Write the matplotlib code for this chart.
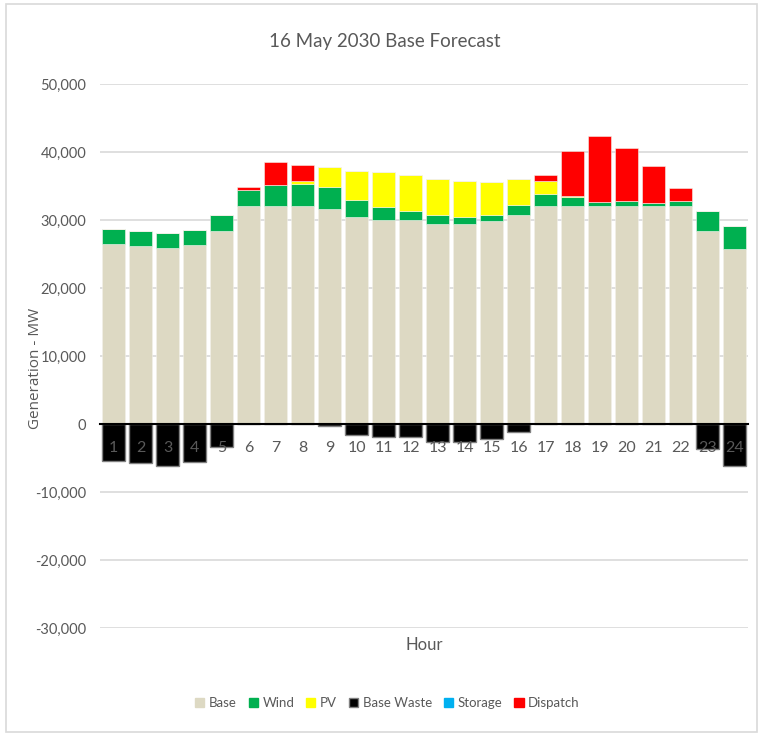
import matplotlib.pyplot as plt
import matplotlib.patches as mpatches
import matplotlib.transforms as mtransforms
import numpy as np

# ===============================================================
# DATA (MW)

hours = list(range(1, 25))
base = [26470, 26130, 25830, 26270, 28430, 32100, 32100, 32100, 31620, 30390, 30000, 29950,
        29360, 29360, 29800, 30690, 32060, 32060, 32060, 32060, 32060, 32060, 28430, 25690]
wind = [2250, 2300, 2260, 2310, 2260, 2310, 3050, 3240, 3230, 2500, 1960, 1420,
        1380, 1130, 940, 1570, 1720, 1270, 640, 780, 440, 780, 2890, 3380]
pv = [0, 0, 0, 0, 0, 0, 0, 390, 2890, 4360, 5150, 5300,
      5290, 5250, 4850, 3770, 2010, 200, 0, 0, 0, 0, 0, 0]
base_waste = [-5390, -5690, -6180, -5640, -3380, 0, 0, 0, -300, -1620, -1960, -1960,
              -2600, -2700, -2250, -1130, 0, 0, 0, 0, 0, 0, -3630, -6230]
storage = [0] * 24
dispatch = [0, 0, 0, 0, 0, 390, 3330, 2310, 0, 0, 0, 0,
            0, 0, 0, 0, 830, 6620, 9700, 7750, 5390, 1820, 0, 0]

y_ticks = list(range(-30000, 50001, 10000))

# ===============================================================
# STYLE

font = ['Lato', 'DejaVu Sans']
grey_text = '#595959'
colors = {'Base': '#ddd9c3', 'Wind': '#00b050', 'PV': '#ffff00',
          'Base Waste': '#000000', 'Storage': '#00b0f0', 'Dispatch': '#ff0000'}

fig = plt.figure(figsize=(7.61, 7.36), dpi=100)
ax = fig.add_axes([0.1314, 0.1467, 0.852, 0.7392])

x = np.array(hours)
w = 0.86

# Stacked positive series
bottom = np.zeros(24)
for name, vals in [('Base', base), ('Wind', wind), ('PV', pv),
                   ('Storage', storage), ('Dispatch', dispatch)]:
    vals = np.array(vals, dtype=float)
    ax.bar(x, vals, w, bottom=bottom, color=colors[name], edgecolor='#f4f2ea',
           linewidth=0.4, label=name, zorder=2)
    bottom += vals

# Negative waste
ax.bar(x, base_waste, w, color=colors['Base Waste'], edgecolor='#808080',
       linewidth=1.0, label='Base Waste', zorder=2)

# Axes
ax.set_xlim(0.5, 24.5)
ax.set_ylim(-30000, 50000)
ax.set_yticks(y_ticks)
ax.set_yticklabels([f"{v:,}" for v in y_ticks], family=font, fontsize=10.5, color=grey_text)
ax.set_xticks(hours)
ax.set_xticklabels([])
ax.tick_params(axis='y', length=0, pad=10)
ax.tick_params(axis='x', length=0)
ax.grid(axis='y', color='#d9d9d9', linewidth=1.2)
ax.set_axisbelow(True)

for s in ['left', 'right', 'top']:
    ax.spines[s].set_visible(False)
ax.spines['bottom'].set_position(('data', 0))
ax.spines['bottom'].set_color('black')
ax.spines['bottom'].set_linewidth(1.5)
ax.spines['bottom'].set_zorder(3)

# Hour labels, drawn over the bars just under the zero line
trans = mtransforms.offset_copy(ax.transData, fig=fig, x=0, y=-17, units='points')
for h in hours:
    ax.text(h, 0, str(h), transform=trans, ha='center', va='center',
            family=font, fontsize=11.5, color=grey_text, zorder=5)

# Texts
fig.text(0.506, 0.943, '16 May 2030 Base Forecast', ha='center', va='center',
         family=font, fontsize=13.5, color=grey_text)
fig.text(0.046, 0.5, 'Generation - MW', rotation=90, ha='center', va='center',
         family=['Open Sans', 'DejaVu Sans'], fontsize=11, color=grey_text)
fig.text(0.557, 0.124, 'Hour', ha='center', va='center',
         family=font, fontsize=12, color=grey_text)

# Legend
order = ['Base', 'Wind', 'PV', 'Base Waste', 'Storage', 'Dispatch']
handles = [mpatches.Patch(facecolor=colors[n],
                          edgecolor='#808080' if n == 'Base Waste' else colors[n],
                          linewidth=1.0) for n in order]
fig.legend(handles, order, loc='center', bbox_to_anchor=(0.509, 0.045), ncol=6,
           frameon=False, handlelength=0.7, handleheight=0.7, handletextpad=0.35,
           columnspacing=0.9, prop={'family': font, 'size': 9.5},
           labelcolor=grey_text)

# Outer chart border
fig.patches.append(mpatches.Rectangle((0.008, 0.005), 0.987, 0.99, transform=fig.transFigure,
                                      fill=False, edgecolor='#d9d9d9', linewidth=1.2))

fig.savefig('out.png', dpi=100)
